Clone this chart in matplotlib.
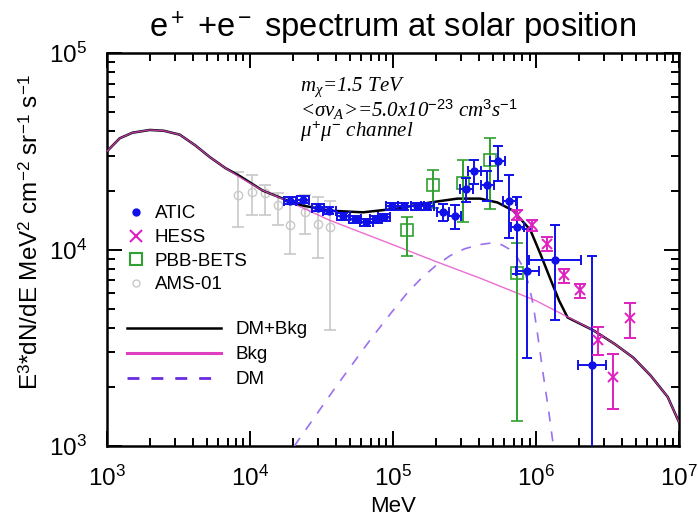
import numpy as np
import matplotlib.pyplot as plt
from matplotlib.lines import Line2D

plt.rcParams['font.family'] = ['Liberation Sans', 'DejaVu Sans']
plt.rcParams['mathtext.fontset'] = 'custom'
plt.rcParams['mathtext.rm'] = 'Liberation Sans'
plt.rcParams['mathtext.sf'] = 'Liberation Sans'
plt.rcParams['mathtext.it'] = 'Liberation Serif:italic'

# model curves (E in MeV, E^3 dN/dE in MeV^2 cm^-2 sr^-1 s^-1)
bkg_E = [1.0e3, 1.23e3, 1.51e3, 2.0e3, 2.51e3, 3.24e3, 4.17e3, 5.25e3, 6.76e3, 8.51e3,
         1.2e4, 2.0e4, 3.63e4, 1.0e5, 2.0e5, 4.07e5, 1.0e6, 1.74e6, 2.51e6, 3.55e6,
         4.79e6, 6.31e6, 8.32e6, 1.0e7]
bkg_flux = [3.16e4, 3.69e4, 3.94e4, 4.07e4, 4.03e4, 3.85e4, 3.39e4, 2.96e4, 2.6e4, 2.34e4,
            2.02e4, 1.72e4, 1.41e4, 1.06e4, 8.7e3, 7.16e3, 5.5e3, 4.47e3, 3.89e3, 3.31e3,
            2.82e3, 2.29e3, 1.78e3, 1.32e3]

dm_E = [2.04e4, 3.98e4, 7.08e4, 1.0e5, 1.26e5, 1.58e5, 2.0e5, 2.51e5, 3.16e5, 3.98e5,
        4.79e5, 5.75e5, 6.61e5, 7.41e5, 8.13e5, 8.91e5, 9.55e5, 1.02e6, 1.12e6, 1.23e6,
        1.35e6]
dm_flux = [1.0e3, 2.0e3, 3.55e3, 4.9e3, 6.03e3, 7.16e3, 8.32e3, 9.33e3, 1.01e4, 1.06e4,
           1.08e4, 1.06e4, 1.0e4, 9.12e3, 8.13e3, 6.61e3, 5.25e3, 3.8e3, 2.34e3, 1.48e3,
           8.9e2]

tot_E = [1.0e3, 1.23e3, 1.51e3, 2.0e3, 2.51e3, 3.24e3, 4.17e3, 5.25e3, 6.76e3, 8.51e3,
         1.23e4, 2.14e4, 3.63e4, 6.17e4, 1.07e5, 1.82e5, 2.82e5, 4.07e5, 5.37e5, 6.92e5,
         9.12e5, 1.07e6, 1.26e6, 1.45e6, 1.66e6, 2.51e6, 3.55e6, 4.79e6, 6.31e6, 8.32e6,
         1.0e7]
tot_flux = [3.16e4, 3.69e4, 3.94e4, 4.07e4, 4.03e4, 3.85e4, 3.39e4, 2.96e4, 2.6e4, 2.37e4,
            2.0e4, 1.7e4, 1.58e4, 1.55e4, 1.62e4, 1.74e4, 1.82e4, 1.82e4, 1.74e4, 1.58e4,
            1.26e4, 9.55e3, 7.08e3, 5.5e3, 4.52e3, 3.89e3, 3.31e3, 2.82e3, 2.29e3, 1.78e3,
            1.32e3]

# ATIC
atic_E = [1.9e4, 2.35e4, 3.0e4, 3.6e4, 4.5e4, 5.4e4, 6.5e4, 7.6e4, 8.7e4, 9.8e4,
          1.2e5, 1.48e5, 1.74e5, 2.24e5, 2.7e5, 3.24e5, 3.7e5, 4.57e5, 5.4e5, 6.5e5,
          7.4e5, 8.7e5, 1.35e6, 2.45e6]
atic_E_lo = [1.72e4, 2.12e4, 2.7e4, 3.25e4, 4.05e4, 4.9e4, 5.9e4, 6.9e4, 7.9e4, 8.9e4,
             1.08e5, 1.34e5, 1.57e5, 2.02e5, 2.44e5, 2.93e5, 3.35e5, 4.13e5, 4.8e5, 5.9e5,
             6.7e5, 7.2e5, 8.9e5, 1.95e6]
atic_E_hi = [2.1e4, 2.6e4, 3.3e4, 4.0e4, 5.0e4, 6.0e4, 7.2e4, 8.4e4, 9.6e4, 1.08e5,
             1.33e5, 1.64e5, 1.93e5, 2.48e5, 3.0e5, 3.6e5, 4.1e5, 5.06e5, 6.1e5, 7.2e5,
             8.2e5, 1.05e6, 2.05e6, 3.08e6]
atic_flux = [1.78e4, 1.8e4, 1.64e4, 1.58e4, 1.48e4, 1.43e4, 1.38e4, 1.43e4, 1.46e4, 1.66e4,
             1.66e4, 1.66e4, 1.66e4, 1.55e4, 1.48e4, 2.04e4, 2.51e4, 2.14e4, 2.82e4, 1.78e4,
             1.3e4, 7.8e3, 8.9e3, 2.6e3]
atic_err = [700, 700, 650, 650, 600, 600, 600, 600, 650, 700,
            700, 700, 700, 1500, 2000, 2900, 3500, 3800, 5700, 6300,
            5500, 5000, 4500, 6700]

# HESS
hess_E = [7.4e5, 9.3e5, 1.2e6, 1.58e6, 2.04e6, 2.7e6, 3.47e6, 4.57e6]
hess_flux = [1.51e4, 1.33e4, 1.07e4, 7.4e3, 6.2e3, 3.47e3, 2.24e3, 4.47e3]
hess_err = [900, 800, 900, 600, 500, 560, 700, 900]

# PBB-BETS
pbb_E = [1.26e5, 1.9e5, 3.1e5, 4.8e5, 7.4e5]
pbb_flux = [1.26e4, 2.14e4, 2.19e4, 2.85e4, 7.6e3]
pbb_lo = [9.3e3, 1.64e4, 1.38e4, 1.62e4, 1.35e3]
pbb_hi = [1.47e4, 2.54e4, 2.85e4, 3.69e4, 1.08e4]

# AMS-01
ams_E = [8.3e3, 1.03e4, 1.27e4, 1.58e4, 1.9e4, 2.43e4, 2.98e4, 3.63e4]
ams_flux = [1.9e4, 1.96e4, 1.94e4, 1.68e4, 1.33e4, 1.55e4, 1.35e4, 1.3e4]
ams_lo = [1.3e4, 1.5e4, 1.5e4, 1.33e4, 9.5e3, 1.2e4, 9.1e3, 3.9e3]
ams_hi = [2.5e4, 2.4e4, 2.14e4, 1.95e4, 1.73e4, 1.9e4, 1.85e4, 1.78e4]

blue = '#1010e8'
magenta = '#e020c0'
green = '#30a030'
grey = '#c8c8c8'

fig = plt.figure(figsize=(6.98, 5.17), dpi=100)
ax = fig.add_axes([0.153, 0.137, 0.820, 0.760])

ax.plot(tot_E, tot_flux, color='black', lw=1.8, zorder=3)
ax.plot(bkg_E, bkg_flux, color='#e848c8', lw=1.0, alpha=0.8, zorder=4)
ax.plot(dm_E, dm_flux, color='#9a70f0', lw=1.2, dashes=(6, 6), zorder=3)

ams_f = np.array(ams_flux)
ax.errorbar(ams_E, ams_flux, yerr=[ams_f - np.array(ams_lo), np.array(ams_hi) - ams_f],
            fmt='o', mfc='none', mec=grey, ms=6, ecolor=grey, elinewidth=1.2,
            capsize=4, capthick=1.2, zorder=2)

pbb_f = np.array(pbb_flux)
ax.errorbar(pbb_E, pbb_flux, yerr=[pbb_f - np.array(pbb_lo), np.array(pbb_hi) - pbb_f],
            fmt='s', mfc='none', mec=green, mew=1.2, ms=8, ecolor=green, elinewidth=1.4,
            capsize=4, capthick=1.4, zorder=5)

ae = np.array(atic_E)
ax.errorbar(atic_E, atic_flux, yerr=atic_err,
            xerr=[ae - np.array(atic_E_lo), np.array(atic_E_hi) - ae],
            fmt='o', color=blue, ms=5, elinewidth=1.4, capsize=3.5, capthick=1.4, zorder=6)

ax.errorbar(hess_E, hess_flux, yerr=hess_err, fmt='x', color=magenta, ms=7, mew=1.4,
            elinewidth=1.4, capsize=4, capthick=1.4, zorder=6)

ax.set_xscale('log')
ax.set_yscale('log')
ax.set_xlim(1e3, 1e7)
ax.set_ylim(1e3, 1e5)

for s in ax.spines.values():
    s.set_linewidth(1.8)
ax.tick_params(which='both', direction='in', top=True, right=True, width=1.4)
ax.tick_params(which='major', length=11, labelsize=17.5, pad=14)
ax.tick_params(which='minor', length=6)

ax.set_title(r'e$^+$ +e$^-$ spectrum at solar position', fontsize=23.5, pad=12)
ax.set_xlabel('MeV', fontsize=16, labelpad=4)
ax.set_ylabel(r'E$^3$*dN/dE MeV$^2$ cm$^{-2}$ sr$^{-1}$ s$^{-1}$', fontsize=17.5)
ax.yaxis.set_label_coords(-0.112, 0.545)

note = dict(transform=ax.transAxes, fontsize=15, family='Liberation Serif', style='italic',
            va='center')
ax.text(0.338, 0.913, r'$m_{\chi}$=1.5 TeV', **note)
ax.text(0.338, 0.855, r'<$\sigma v_{A}$>=5.0x10$^{\mathit{-23}}$ cm$^{\mathit{3}}$s$^{\mathit{-1}}$', **note)
ax.text(0.338, 0.799, r'$\mu^{\mathit{+}}\mu^{\mathit{-}}$ channel', **note)

data_handles = [
    Line2D([], [], ls='none', marker='o', color=blue, ms=5),
    Line2D([], [], ls='none', marker='x', color=magenta, ms=8, mew=1.5),
    Line2D([], [], ls='none', marker='s', mfc='none', mec=green, ms=8, mew=1.5),
    Line2D([], [], ls='none', marker='o', mfc='none', mec=grey, ms=5),
]
leg1 = ax.legend(data_handles, ['ATIC', 'HESS', 'PBB-BETS', 'AMS-01'], loc='upper left',
                 bbox_to_anchor=(0.035, 0.613), frameon=False, fontsize=13.5,
                 handlelength=1.0, handletextpad=0.5, labelspacing=0.35,
                 borderpad=0, borderaxespad=0)
ax.add_artist(leg1)

line_handles = [
    Line2D([], [], color='black', lw=1.8),
    Line2D([], [], color='#e040c0', lw=2.2),
    Line2D([], [], color='#6a2ce0', lw=2.0, dashes=(4.3, 4.3)),
]
ax.legend(line_handles, ['DM+Bkg', 'Bkg', 'DM'], loc='upper left',
          bbox_to_anchor=(0.035, 0.318), frameon=False, fontsize=13.5,
          handlelength=5.0, handletextpad=0.8, labelspacing=0.42,
          borderpad=0, borderaxespad=0)

fig.savefig('out.png', dpi=100)
